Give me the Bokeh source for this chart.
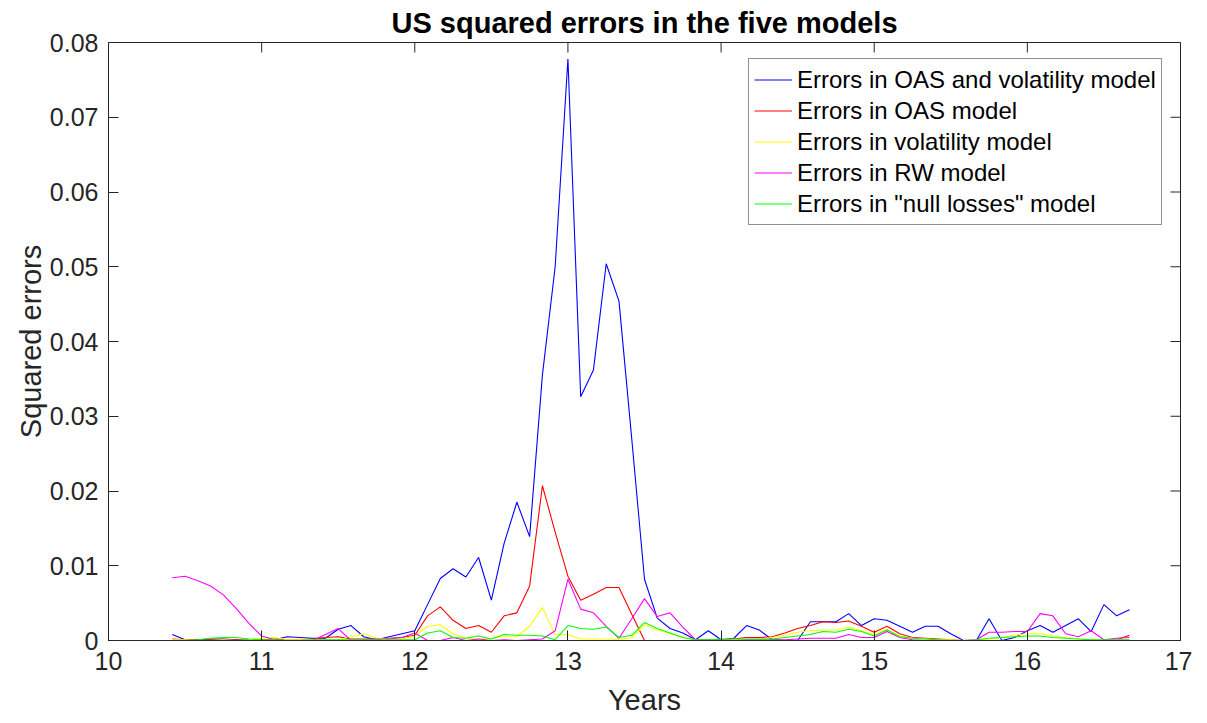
import math
from bokeh.plotting import figure
from bokeh.models import (Legend, LegendItem, FixedTicker, Range1d,
                          CustomJSTickFormatter, Title)
from bokeh.embed import file_html
from bokeh.resources import INLINE

# monthly observations, May 2010 (10.42) to Aug 2016 (16.67)
years = [10 + (5 + i) / 12 for i in range(76)]

oas_vol = [0.0008, 0.0001, 0.0001, 0.0002, 0.0002, 0.0001, 0.0001, 0.0000, 0.0001, 0.0005,
           0.0004, 0.0003, 0.0003, 0.0015, 0.0020, 0.0005, 0.0001, 0.0005, 0.0009, 0.0013,
           0.0048, 0.0083, 0.0096, 0.0085, 0.0111, 0.0054, 0.0130, 0.0185, 0.0139, 0.0355,
           0.0500, 0.0778, 0.0326, 0.0362, 0.0504, 0.0454, 0.0270, 0.0082, 0.0030, 0.0016,
           0.0010, 0.0001, 0.0013, 0.0001, 0.0003, 0.0020, 0.0014, 0.0001, 0.0000, 0.0000,
           0.0025, 0.0025, 0.0025, 0.0036, 0.0020, 0.0029, 0.0027, 0.0019, 0.0011, 0.0019,
           0.0019, 0.0009, 0.0000, 0.0000, 0.0029, 0.0000, 0.0004, 0.0013, 0.0020, 0.0011,
           0.0020, 0.0029, 0.0012, 0.0048, 0.0033, 0.0041]

oas = [0.0002, 0.0001, 0.0001, 0.0001, 0.0001, 0.0001, 0.0000, 0.0001, 0.0002, 0.0001,
       0.0001, 0.0002, 0.0004, 0.0005, 0.0002, 0.0002, 0.0002, 0.0003, 0.0004, 0.0007,
       0.0033, 0.0045, 0.0027, 0.0016, 0.0020, 0.0011, 0.0033, 0.0037, 0.0073, 0.0207,
       0.0145, 0.0086, 0.0054, 0.0062, 0.0071, 0.0071, 0.0035, 0.0000, 0.0000, 0.0000,
       0.0000, 0.0000, 0.0001, 0.0001, 0.0002, 0.0004, 0.0004, 0.0005, 0.0010, 0.0016,
       0.0020, 0.0025, 0.0024, 0.0026, 0.0019, 0.0011, 0.0019, 0.0009, 0.0004, 0.0003,
       0.0002, 0.0001, 0.0000, 0.0000, 0.0000, 0.0000, 0.0000, 0.0000, 0.0000, 0.0000,
       0.0000, 0.0000, 0.0000, 0.0000, 0.0001, 0.0007]

vol = [0.0001, 0.0001, 0.0000, 0.0000, 0.0001, 0.0000, 0.0001, 0.0003, 0.0004, 0.0001,
       0.0001, 0.0001, 0.0001, 0.0001, 0.0005, 0.0009, 0.0003, 0.0002, 0.0002, 0.0006,
       0.0019, 0.0021, 0.0009, 0.0003, 0.0002, 0.0003, 0.0005, 0.0005, 0.0019, 0.0044,
       0.0008, 0.0008, 0.0002, 0.0002, 0.0002, 0.0001, 0.0004, 0.0021, 0.0014, 0.0009,
       0.0004, 0.0001, 0.0001, 0.0001, 0.0001, 0.0001, 0.0002, 0.0004, 0.0007, 0.0011,
       0.0013, 0.0014, 0.0014, 0.0018, 0.0013, 0.0008, 0.0015, 0.0006, 0.0003, 0.0002,
       0.0001, 0.0001, 0.0000, 0.0001, 0.0002, 0.0004, 0.0007, 0.0009, 0.0009, 0.0006,
       0.0004, 0.0002, 0.0001, 0.0001, 0.0001, 0.0001]

rw = [0.0084, 0.0086, 0.0080, 0.0073, 0.0061, 0.0043, 0.0023, 0.0006, 0.0001, 0.0000,
      0.0000, 0.0000, 0.0008, 0.0016, 0.0000, 0.0001, 0.0002, 0.0002, 0.0004, 0.0010,
      0.0000, 0.0000, 0.0004, 0.0000, 0.0002, 0.0000, 0.0001, 0.0000, 0.0001, 0.0002,
      0.0013, 0.0082, 0.0042, 0.0037, 0.0019, 0.0003, 0.0029, 0.0056, 0.0032, 0.0037,
      0.0018, 0.0001, 0.0001, 0.0001, 0.0000, 0.0001, 0.0001, 0.0001, 0.0001, 0.0002,
      0.0003, 0.0003, 0.0003, 0.0008, 0.0004, 0.0004, 0.0012, 0.0004, 0.0001, 0.0000,
      0.0000, 0.0000, 0.0000, 0.0001, 0.0011, 0.0011, 0.0012, 0.0012, 0.0036, 0.0033,
      0.0009, 0.0005, 0.0013, 0.0001, 0.0003, 0.0004]

null_losses = [0.0000, 0.0000, 0.0001, 0.0003, 0.0004, 0.0004, 0.0002, 0.0001, 0.0001, 0.0000,
               0.0000, 0.0001, 0.0001, 0.0001, 0.0001, 0.0001, 0.0001, 0.0001, 0.0001, 0.0001,
               0.0010, 0.0013, 0.0004, 0.0003, 0.0006, 0.0002, 0.0008, 0.0007, 0.0007, 0.0006,
               0.0001, 0.0020, 0.0016, 0.0015, 0.0018, 0.0004, 0.0007, 0.0024, 0.0016, 0.0010,
               0.0004, 0.0001, 0.0001, 0.0002, 0.0002, 0.0002, 0.0002, 0.0002, 0.0004, 0.0006,
               0.0008, 0.0012, 0.0011, 0.0015, 0.0012, 0.0006, 0.0014, 0.0005, 0.0003, 0.0002,
               0.0001, 0.0000, 0.0000, 0.0001, 0.0003, 0.0004, 0.0005, 0.0006, 0.0006, 0.0004,
               0.0003, 0.0002, 0.0001, 0.0001, 0.0001, 0.0001]

series = [
    ("Errors in OAS and volatility model", oas_vol, "#0000ff"),
    ("Errors in OAS model", oas, "#ff0000"),
    ("Errors in volatility model", vol, "#ffff00"),
    ("Errors in RW model", rw, "#ff00ff"),
    ('Errors in "null losses" model', null_losses, "#00ff00"),
]

x_ticks = [10, 11, 12, 13, 14, 15, 16, 17]
y_ticks = [0, 0.01, 0.02, 0.03, 0.04, 0.05, 0.06, 0.07, 0.08]
x_min, x_max = 10, 17
y_min, y_max = 0, 0.08

FONT = "Liberation Sans"
AXC = "#262626"

p = figure(frame_width=1072, frame_height=598, output_backend="svg", toolbar_location=None,
           x_range=Range1d(x_min, x_max), y_range=Range1d(y_min, y_max),
           min_border_left=108, min_border_right=12, min_border_top=42, min_border_bottom=66)
p.title = None
p.add_layout(Title(text="US squared errors in the five models", align="center",
                   text_font=FONT, text_font_size="29px", text_font_style="bold",
                   text_color="#000000", standoff=7), "above")

p.xgrid.visible = False
p.ygrid.visible = False
p.outline_line_color = AXC
p.outline_line_width = 1
p.background_fill_color = "white"
p.border_fill_color = "white"

fmt = CustomJSTickFormatter(code="return tick.toFixed(2).replace(/\\.?0+$/, '');")

for ax in (p.xaxis[0], p.yaxis[0]):
    ax.major_tick_in = 10
    ax.major_tick_out = 0
    ax.minor_tick_in = 0
    ax.minor_tick_out = 0
    ax.axis_line_color = AXC
    ax.major_tick_line_color = AXC
    ax.major_label_text_font = FONT
    ax.major_label_text_font_size = "25px"
    ax.major_label_text_color = AXC
    ax.axis_label_text_font = FONT
    ax.axis_label_text_font_size = "29px"
    ax.axis_label_text_font_style = "normal"
    ax.axis_label_text_color = AXC

p.xaxis[0].ticker = FixedTicker(ticks=x_ticks)
p.yaxis[0].ticker = FixedTicker(ticks=y_ticks)
p.yaxis[0].formatter = fmt
p.xaxis[0].axis_label = "Years"
p.yaxis[0].axis_label = "Squared errors"
p.xaxis[0].major_label_standoff = 11
p.xaxis[0].axis_label_standoff = 11
p.yaxis[0].major_label_standoff = 10
p.yaxis[0].axis_label_standoff = 0

# box ticks on the top and right edges (inner half of a dash marker, clipped by the frame)
p.scatter(x_ticks, [y_max] * len(x_ticks), marker="dash", size=20, angle=math.pi / 2,
          line_color=AXC, line_width=1)
p.scatter([x_max] * len(y_ticks), y_ticks, marker="dash", size=20,
          line_color=AXC, line_width=1)

items = []
for label, ys, color in series:
    r = p.line(years, ys, line_color=color, line_width=1.1)
    items.append(LegendItem(label=label, renderers=[r]))

legend = Legend(items=items, location=(640, 415), padding=5, spacing=0,
                glyph_width=38, glyph_height=31, label_height=31, label_standoff=5,
                label_text_font=FONT, label_text_font_size="24px", label_text_color="#000000",
                border_line_color=AXC, border_line_width=1, background_fill_color="white",
                background_fill_alpha=1.0)
p.add_layout(legend, "center")

open("out.html", "w").write(file_html(p, INLINE))
